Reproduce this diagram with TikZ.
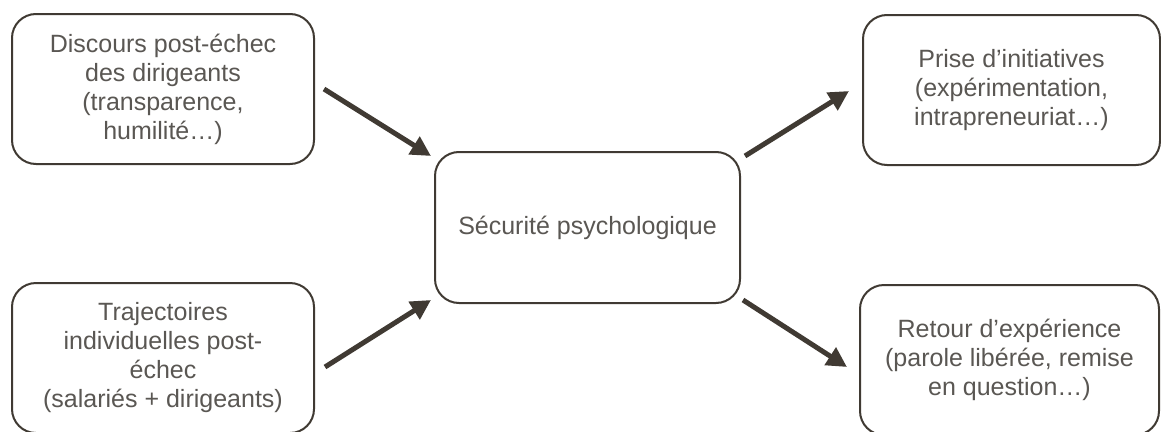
\documentclass[tikz,border=0pt]{standalone}
\usepackage{fontspec}
\setmainfont{Liberation Sans}
\usetikzlibrary{arrows.meta}
\definecolor{edge}{HTML}{403A33}
\definecolor{txt}{HTML}{5A5753}
\tikzset{
  box/.style={draw=edge, line width=2pt, rounded corners=24pt, fill=white,
    align=center, text=txt, font=\fontsize{25}{29}\selectfont, inner sep=0pt},
  arr/.style={draw=edge, line width=5pt, -{Triangle[length=20pt,width=20pt]}}
}
\begin{document}
\begin{tikzpicture}[x=1pt,y=-1pt]
\useasboundingbox (0,0) rectangle (1161,431);
\node[box, minimum width=302pt, minimum height=150pt] (tl) at (163,89)
  {Discours post-échec\\des dirigeants\\(transparence,\\humilité…)};
\node[box, minimum width=302pt, minimum height=150pt] (bl) at (163,358)
  {Trajectoires\\individuelles post-\\échec\\(salariés + dirigeants)};
\node[box, minimum width=305pt, minimum height=151pt] (c) at (587.5,227.5)
  {Sécurité psychologique};
\node[box, minimum width=297pt, minimum height=150pt] (tr) at (1011.5,90)
  {Prise d’initiatives\\(expérimentation,\\intrapreneuriat…)};
\node[box, minimum width=299pt, minimum height=150pt] (br) at (1009.5,360)
  {Retour d’expérience\\(parole libérée, remise\\en question…)};
\draw[arr] ([xshift=9pt]tl.east) -- ([xshift=-3pt,yshift=-5pt]c.north west);
\draw[arr] ([xshift=10pt,yshift=-9pt]bl.east) -- ([xshift=-3pt,yshift=4pt]c.south west);
\draw[arr] ([xshift=4pt,yshift=-5pt]c.north east) -- ([xshift=-13pt,yshift=-1pt]tr.west);
\draw[arr] ([xshift=2pt,yshift=4pt]c.south east) -- ([xshift=-12pt,yshift=-7pt]br.west);
\end{tikzpicture}
\end{document}
